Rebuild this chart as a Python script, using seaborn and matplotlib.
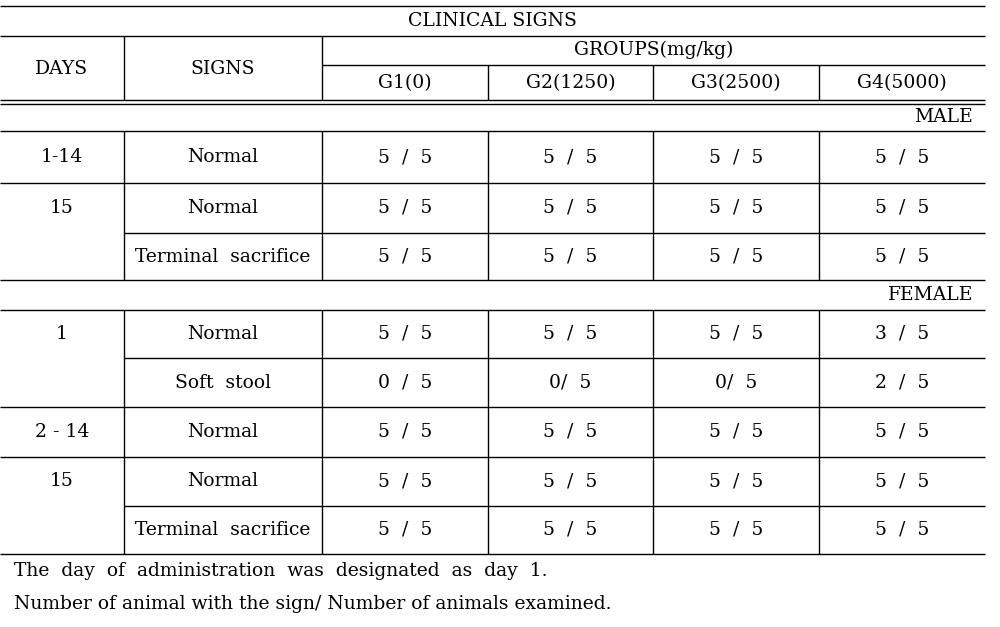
import matplotlib
matplotlib.use("Agg")
import matplotlib.pyplot as plt
import seaborn as sns

# Table content
title = "CLINICAL SIGNS"
group_header = "GROUPS(mg/kg)"
groups = ["G1(0)", "G2(1250)", "G3(2500)", "G4(5000)"]

male_days = ["1-14", "15", ""]
male_signs = ["Normal", "Normal", "Terminal  sacrifice"]
male_cells = [
    ["5  /  5", "5  /  5", "5  /  5", "5  /  5"],
    ["5  /  5", "5  /  5", "5  /  5", "5  /  5"],
    ["5  /  5", "5  /  5", "5  /  5", "5  /  5"],
]

female_days = ["1", "", "2 - 14", "15", ""]
female_signs = ["Normal", "Soft  stool", "Normal", "Normal", "Terminal  sacrifice"]
female_cells = [
    ["5  /  5", "5  /  5", "5  /  5", "3  /  5"],
    ["0  /  5", "0/  5", "0/  5", "2  /  5"],
    ["5  /  5", "5  /  5", "5  /  5", "5  /  5"],
    ["5  /  5", "5  /  5", "5  /  5", "5  /  5"],
    ["5  /  5", "5  /  5", "5  /  5", "5  /  5"],
]

notes = [
    "The  day  of  administration  was  designated  as  day  1.",
    "Number of animal with the sign/ Number of animals examined.",
]

# Layout (pixel grid of the figure)
col_edges = [0, 124, 322, 488, 653, 819, 985]
male_bounds = [131, 183, 233, 280]
female_bounds = [310, 358, 407, 457, 506, 554]
fs = 13.5
font = "DejaVu Serif"
ink = "black"

sns.set_theme(style="white")
plt.rcParams["font.family"] = [font, "DejaVu Sans"]
plt.rcParams["text.color"] = ink

fig = plt.figure(figsize=(10, 6.27), dpi=100)
ax = fig.add_axes([0, 0, 1, 1])
ax.set_xlim(0, 1000)
ax.set_ylim(627, 0)
ax.axis("off")

lw = 1.0
x0, x1 = col_edges[0], col_edges[-1]


def center(i):
    return (col_edges[i] + col_edges[i + 1]) / 2


def cell_text(x, y, s, ha="center"):
    ax.text(x, y, s, ha=ha, va="center", fontsize=fs, color=ink)


# Header
ax.hlines([6, 36], x0, x1, color=ink, lw=lw)
ax.hlines(65, col_edges[2], x1, color=ink, lw=lw)
ax.hlines([100, 103.5], x0, x1, color=ink, lw=lw)
ax.vlines(col_edges[1:3], 36, 100, color=ink, lw=lw)
ax.vlines(col_edges[3:6], 65, 100, color=ink, lw=lw)
cell_text(x1 / 2, 21, title)
cell_text((col_edges[2] + x1) / 2, 50, group_header)
cell_text(center(0), 69, "DAYS")
cell_text(center(1), 69, "SIGNS")
for j, g in enumerate(groups):
    cell_text(center(2 + j), 83, g)


def draw_block(label, top, bounds, days, signs, cells):
    cell_text(973, (top + bounds[0]) / 2, label, ha="right")
    ax.hlines(bounds[0], x0, x1, color=ink, lw=lw)
    ax.vlines(col_edges[1:6], bounds[0], bounds[-1], color=ink, lw=lw)
    for i in range(len(signs)):
        ya, yb = bounds[i], bounds[i + 1]
        yc = (ya + yb) / 2
        nxt_day = days[i + 1] if i + 1 < len(days) else "x"
        start = x0 if nxt_day else col_edges[1]
        ax.hlines(yb, start, x1, color=ink, lw=lw)
        if days[i]:
            cell_text(center(0), yc, days[i])
        cell_text(center(1), yc, signs[i])
        for j, c in enumerate(cells[i]):
            cell_text(center(2 + j), yc, c)


draw_block("MALE", 103.5, male_bounds, male_days, male_signs, male_cells)
draw_block("FEMALE", male_bounds[-1], female_bounds, female_days, female_signs, female_cells)

for k, note in enumerate(notes):
    cell_text(14, 571 + 33 * k, note, ha="left")

fig.savefig("out.png", dpi=100, facecolor="white")
